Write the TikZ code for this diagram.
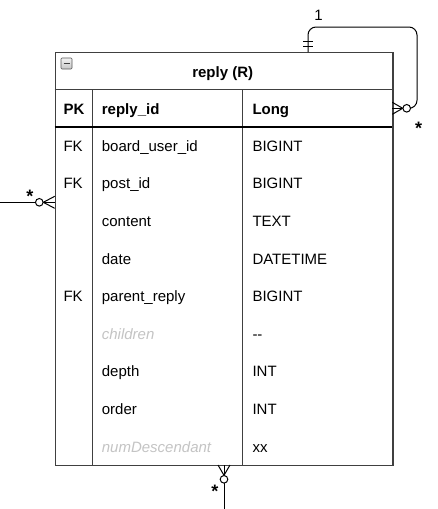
\documentclass[tikz,border=0pt]{standalone}
\usepackage{fontspec}
\setmainfont{Liberation Sans}
\definecolor{frame}{HTML}{404040}
\definecolor{faint}{HTML}{C4C4C4}
\tikzset{
  cell/.style={anchor=base west, inner sep=0pt, font=\fontsize{15}{18}\selectfont},
  hcell/.style={cell, font=\fontsize{15}{18}\selectfont\bfseries},
  ghost/.style={cell, text=faint, font=\fontsize{15}{18}\selectfont\itshape},
  gridline/.style={draw=frame, line width=1.2pt},
  conn/.style={draw=black, line width=1pt},
  ring/.style={draw=black, line width=1pt, fill=white},
  mult/.style={inner sep=0pt, font=\fontsize{15}{18}\selectfont},
  star/.style={inner sep=0pt, font=\fontsize{18}{20}\selectfont\bfseries}
}
\begin{document}
\begin{tikzpicture}[x=1pt,y=-1pt]
\useasboundingbox (0,0) rectangle (437,509);
% table frame
\node[draw=frame, line width=1.2pt, fill=white, minimum width=337.6pt, minimum height=413pt,
      inner sep=0pt, anchor=north west] (tbl) at (54.7,52) {};
\coordinate (t1l) at (54.7,89.3);  \coordinate (t1r) at (392.3,89.3);
\coordinate (t2l) at (54.7,127.3); \coordinate (t2r) at (392.3,127.3);
\coordinate (c1t) at (92.3,89.3);  \coordinate (c1b) at (92.3,465);
\coordinate (c2t) at (242.3,89.3); \coordinate (c2b) at (242.3,465);
\draw[gridline] (t1l) -- (t1r);
\draw[gridline] (c1t) -- (c1b);
\draw[gridline] (c2t) -- (c2b);
\draw[draw=black, line width=1.7pt] (t2l) -- (t2r);
% collapse icon
\draw[draw=gray!70!black, line width=0.6pt, top color=gray!10, bottom color=gray!45, rounded corners=1pt]
  (61,58) rectangle (72,69);
\draw[draw=black!75, line width=1.3pt] (63.5,63.5) -- (69.5,63.5);
% title
\node[hcell, anchor=base] (title) at (222.7,77.3) {reply (R)};
% header row
\node[hcell] (hpk) at (63.3,114.7) {PK};
\node[hcell] (hname) at (101.7,114.7) {reply\_id};
\node[hcell] (htype) at (252.3,114.7) {Long};
% rows
\node[cell] (k1) at (63.3,151.2) {FK};
\node[cell] (n1) at (101.7,151.2) {board\_user\_id};
\node[cell] (y1) at (252.3,151.2) {BIGINT};
\node[cell] (k2) at (63.3,188.8) {FK};
\node[cell] (n2) at (101.7,188.8) {post\_id};
\node[cell] (y2) at (252.3,188.8) {BIGINT};
\node[cell] (n3) at (101.7,226.4) {content};
\node[cell] (y3) at (252.3,226.4) {TEXT};
\node[cell] (n4) at (101.7,264.0) {date};
\node[cell] (y4) at (252.3,264.0) {DATETIME};
\node[cell] (k5) at (63.3,301.6) {FK};
\node[cell] (n5) at (101.7,301.6) {parent\_reply};
\node[cell] (y5) at (252.3,301.6) {BIGINT};
\node[ghost] (n6) at (101.7,339.2) {children};
\node[cell] (y6) at (252.3,339.2) {-{}-};
\node[cell] (n7) at (101.7,376.8) {depth};
\node[cell] (y7) at (252.3,376.8) {INT};
\node[cell] (n8) at (101.7,414.4) {order};
\node[cell] (y8) at (252.3,414.4) {INT};
\node[ghost] (n9) at (101.7,452.0) {numDescendant};
\node[cell] (y9) at (252.3,452.0) {xx};
% self loop (one side on top, many side on right)
\coordinate (sTop) at (308,52);
\coordinate (sRing) at (406.7,108.3);
\coordinate (sTip) at (402.7,108.3);
\draw[conn, rounded corners=8pt] (sTop) -- (308,27) -- (417,27) -- (417,108.3) -- (sTip);
\draw[conn] (303,41.7) -- (313,41.7);
\draw[conn] (303,46.7) -- (313,46.7);
\draw[conn] (392.3,102.3) -- (sTip) -- (392.3,114.3);
\draw[conn] (392.3,108.3) -- (sTip);
\draw[ring] (sRing) circle[radius=3.8pt];
\node[mult] (one) at (318.5,15.5) {1};
\node[star] (rstar) at (418.5,128.5) {*};
% left connector
\coordinate (lEnd) at (0,202.3);
\coordinate (lRing) at (39.3,202.3);
\coordinate (lTip) at (43.3,202.3);
\draw[conn] (lEnd) -- (lRing);
\draw[conn] (54.7,196.3) -- (lTip) -- (54.7,208.3);
\draw[conn] (54.7,202.3) -- (lTip);
\draw[ring] (lRing) circle[radius=3.8pt];
\node[star] (lstar) at (30,196) {*};
% bottom connector
\coordinate (bEnd) at (224,509);
\coordinate (bRing) at (224,479.3);
\coordinate (bTip) at (224,475.3);
\draw[conn] (bEnd) -- (bRing);
\draw[conn] (218,465) -- (bTip) -- (230,465);
\draw[conn] (224,465) -- (bTip);
\draw[ring] (bRing) circle[radius=3.8pt];
\node[star] (bstar) at (215,491.5) {*};
\end{tikzpicture}
\end{document}
